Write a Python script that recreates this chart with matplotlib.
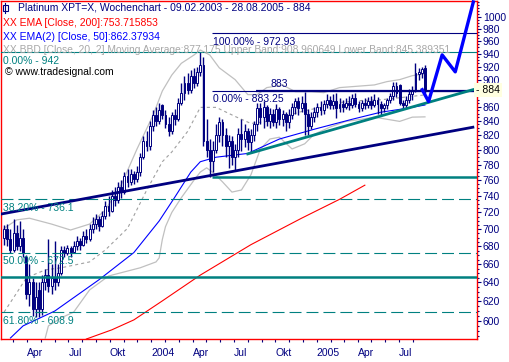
import pandas as pd
import matplotlib
matplotlib.use('Agg')
import matplotlib.pyplot as plt
import matplotlib.dates as mdates
import matplotlib.transforms as mtrans
from matplotlib.ticker import FixedLocator, FixedFormatter, NullFormatter
from matplotlib.patches import Rectangle
from matplotlib.lines import Line2D

plt.rcParams['font.family'] = ['Liberation Sans', 'DejaVu Sans']
plt.rcParams['lines.scale_dashes'] = False

# weekly candles 09.02.2003 - 28.08.2005
weeks = pd.date_range('2003-02-09', periods=134, freq='7D')
opens = [690, 700, 688, 676, 695, 680, 690, 668, 628, 640, 612, 632, 612, 640, 648, 636, 645, 640, 650, 676,
         672, 678, 674, 680, 686, 682, 692, 688, 700, 706, 712, 704, 716, 728, 722, 740, 735, 752, 745, 765,
         758, 768, 762, 770, 790, 812, 805, 832, 848, 840, 862, 848, 836, 825, 848, 842, 865, 880, 895, 884,
         905, 895, 912, 922, 812, 800, 785, 800, 820, 838, 820, 805, 812, 790, 800, 822, 815, 825, 810, 820,
         835, 858, 845, 860, 840, 850, 838, 856, 842, 850, 838, 848, 860, 868, 858, 866, 850, 832, 845, 852,
         860, 855, 864, 870, 862, 868, 858, 864, 860, 866, 862, 872, 864, 858, 865, 862, 868, 862, 870, 864,
         858, 862, 870, 876, 890, 892, 866, 862, 870, 878, 884, 908, 910, 918]
highs = [705, 706, 700, 712, 705, 710, 700, 670, 660, 645, 640, 640, 648, 655, 688, 660, 686, 660, 680, 680,
         682, 680, 686, 692, 690, 698, 700, 706, 714, 718, 716, 722, 734, 740, 748, 752, 758, 760, 770, 775,
         775, 772, 778, 796, 818, 826, 840, 855, 860, 866, 864, 855, 845, 852, 856, 872, 895, 905, 910, 915,
         918, 920, 942, 935, 842, 815, 812, 835, 845, 842, 830, 820, 818, 808, 830, 842, 835, 830, 828, 840,
         865, 866, 868, 862, 858, 856, 864, 860, 855, 852, 856, 866, 872, 874, 876, 882, 856, 852, 860, 866,
         868, 870, 878, 876, 878, 880, 872, 870, 872, 875, 878, 880, 868, 870, 872, 874, 876, 878, 874, 868,
         866, 872, 880, 896, 896, 894, 870, 876, 886, 890, 925, 918, 920, 922]
lows = [682, 680, 672, 674, 676, 675, 668, 622, 615, 605, 604, 604, 606, 632, 630, 628, 632, 636, 648, 668,
        670, 668, 672, 676, 676, 680, 684, 686, 696, 700, 698, 702, 712, 716, 720, 728, 732, 738, 742, 752,
        754, 755, 758, 765, 788, 798, 800, 826, 832, 836, 842, 830, 818, 822, 834, 840, 862, 870, 878, 880,
        888, 890, 905, 805, 790, 764, 770, 795, 810, 805, 790, 776, 780, 773, 790, 798, 804, 800, 796, 812,
        825, 835, 830, 832, 830, 832, 830, 834, 832, 826, 830, 842, 850, 848, 852, 820, 820, 828, 838, 845,
        848, 850, 858, 856, 856, 844, 852, 853, 856, 855, 858, 860, 852, 854, 856, 858, 856, 860, 850, 848,
        852, 856, 865, 870, 874, 862, 856, 858, 866, 870, 882, 900, 902, 880]
closes = [700, 688, 676, 695, 680, 690, 672, 628, 640, 612, 625, 612, 640, 648, 636, 645, 640, 650, 676, 672,
          678, 674, 680, 686, 682, 692, 688, 700, 706, 712, 704, 716, 728, 722, 740, 735, 752, 745, 765, 758,
          768, 762, 770, 790, 812, 805, 832, 848, 840, 855, 848, 836, 825, 848, 842, 865, 880, 895, 884, 905,
          895, 912, 922, 812, 800, 785, 800, 820, 838, 820, 805, 812, 790, 800, 822, 815, 825, 810, 820, 835,
          858, 845, 860, 840, 850, 838, 856, 842, 850, 838, 848, 860, 868, 858, 866, 850, 832, 845, 852, 860,
          855, 864, 870, 862, 868, 858, 864, 860, 866, 862, 872, 864, 858, 865, 862, 868, 862, 870, 864, 858,
          862, 870, 876, 890, 880, 866, 862, 870, 878, 884, 910, 912, 916, 884]

# indicator lines (week index -> value)
ema200_idx = [26, 34, 41, 50, 62, 78, 94, 106, 114]
ema200_val = [582, 591, 601, 620.5, 648, 682, 713, 736, 753.7]
ema50_idx = [2, 6, 16, 30, 41, 49, 54, 59, 62, 67, 77, 87, 98, 110, 119, 127, 133]
ema50_val = [583, 595, 610, 643, 673, 709.7, 739, 770.5, 784, 790, 795, 814.5, 828, 842, 852, 857.5, 862.4]
bbm_idx = [0, 4, 7, 13, 18, 27, 32, 39, 45, 50, 53, 58, 62, 67, 73, 78, 83, 88, 94, 100, 106, 113, 119, 125, 133]
bbm_val = [609, 629, 645, 653.7, 656, 662.5, 676, 701, 747, 784, 797, 825, 859, 859, 846, 836, 839, 845, 853,
           859, 866, 869, 870, 873, 877.2]
bbu_idx = [0, 4, 8, 15, 21, 27, 32, 37, 42, 47, 50, 53, 56, 60, 62, 65, 68, 73, 77, 80, 83, 88, 92, 97, 101,
           106, 117, 121, 125, 129, 133]
bbu_val = [701, 711, 713, 706, 699, 706, 723, 754, 801, 847, 883, 907, 925, 938, 946, 938, 918, 900, 877.6,
           877.6, 888, 892, 882, 882, 880.5, 888, 892, 897, 900, 906, 909]
bbl_idx = [13, 14, 18, 22, 27, 33, 38, 43, 48, 49, 50, 51, 53, 56, 60, 62, 64, 66, 69, 72, 75, 78, 81, 84, 87,
           91, 95, 98, 103, 108, 113, 117, 121, 125, 129, 133]
bbl_val = [583, 595, 603, 609, 632, 647, 651.5, 656, 662.5, 667, 688, 703, 720, 738, 760, 770.5, 776, 770, 758,
           745, 747.6, 767, 801, 814.5, 817, 801, 808, 821, 831, 839, 842, 845, 842, 839, 845, 845.4]

# drawing tools
fib_left = [942, 736.1, 672.5, 608.9]
fib_left_txt = ['0.00% - 942', '38.20% - 736.1', '50.00% - 672.5', '61.80% - 608.9']
fib_right = [972.93, 883.25]
fib_right_txt = ['100.00% - 972.93', '0.00% - 883.25']
support_lo = 646.1
support_hi = 764.5
resist = 883
trend1_d = ['2003-02-04', '2005-12-12']
trend1_v = [718.2, 830.8]
trend2_d = ['2004-08-01', '2005-12-12']
trend2_v = [794.4, 884.9]
fc_d = ['2005-08-22', '2005-09-05', '2005-10-05', '2005-11-03', '2005-12-13']
fc_v = [884.9, 867.4, 938.2, 911.8, 1025.5]

navy = '#000080'
teal = '#008080'

fig = plt.figure(figsize=(5.09, 3.62), dpi=100)
ax = fig.add_axes([0.5 / 509, 1 - 338.5 / 362, 476 / 509, 338 / 362])
ax.set_yscale('log')
ax.set_ylim(582.5, 1028)
ax.set_xlim(pd.Timestamp('2003-02-01'), pd.Timestamp('2005-12-20'))

x = mdates.date2num(weeks)
ax.vlines(x, lows, highs, color=navy, lw=1, zorder=3)
for xi, o, c in zip(x, opens, closes):
    lo, hi = min(o, c), max(o, c)
    if hi - lo < 1:
        hi = lo + 1
    fc = 'white' if c >= o else navy
    ax.bar(xi, hi - lo, bottom=lo, width=4.2, facecolor=fc, edgecolor=navy, lw=0.7, zorder=3.5)

wk = lambda idx: weeks[idx]
ax.plot(wk(bbu_idx), bbu_val, color='#c0c0c0', lw=0.9, zorder=2)
ax.plot(wk(bbl_idx), bbl_val, color='#c0c0c0', lw=0.9, zorder=2)
ax.plot(wk(bbm_idx), bbm_val, color='#a0a0a0', lw=0.8, dashes=(2.2, 2.2), zorder=2)
ax.plot(wk(ema200_idx), ema200_val, color='#ff0000', lw=0.8, zorder=2)
ax.plot(wk(ema50_idx), ema50_val, color='#0000ff', lw=0.8, zorder=2)

# fibonacci + horizontal lines
ax.axhline(fib_left[0], color=teal, lw=0.8, zorder=4)
for v in fib_left[1:]:
    ax.axhline(v, color=teal, lw=0.8, dashes=(8.6, 3.6), zorder=4)
ax.axhline(support_lo, color=teal, lw=1.8, zorder=4)
start = pd.Timestamp('2004-05-14')
end = pd.Timestamp('2005-12-20')
ax.hlines(support_hi, start, end, color=teal, lw=1.8, zorder=4)
ax.hlines(fib_right, start, end, color=navy, lw=0.8, zorder=4)
ax.hlines(resist, pd.Timestamp('2004-08-19'), end, color=navy, lw=1.6, zorder=4)

blend = mtrans.blended_transform_factory(ax.transAxes, ax.transData)
for v, t in zip(fib_left, fib_left_txt):
    ax.annotate(t, (0.005, v), xycoords=blend, xytext=(0, -2.5), textcoords='offset points',
                va='top', ha='left', color=teal, fontsize=7.5, zorder=6)
for v, t in zip(fib_right, fib_right_txt):
    ax.annotate(t, (start, v), xytext=(1, -2.5), textcoords='offset points',
                va='top', ha='left', color=navy, fontsize=7.5, zorder=6)
ax.annotate('883', (pd.Timestamp('2004-10-09'), resist), xytext=(0, 1.5), textcoords='offset points',
            va='bottom', ha='center', color=navy, fontsize=7.5, zorder=6)

# trend lines and forecast
ax.plot(pd.to_datetime(trend1_d), trend1_v, color=navy, lw=2, zorder=5)
ax.plot(pd.to_datetime(trend2_d), trend2_v, color=teal, lw=2, zorder=5)
ax.plot(pd.to_datetime(fc_d), fc_v, color='#0000ff', lw=2.4, zorder=6, clip_on=False)

# axes styling
for s in ax.spines.values():
    s.set_color('#ff0000')
    s.set_linewidth(1)
ax.yaxis.tick_right()
yt = [v for v in range(580, 1001, 20) if v != 880]
ax.yaxis.set_major_locator(FixedLocator(yt))
ax.yaxis.set_major_formatter(FixedFormatter([str(v) for v in yt]))
ax.yaxis.set_minor_locator(FixedLocator(list(range(585, 1026, 5))))
ax.yaxis.set_minor_formatter(NullFormatter())
ax.tick_params(axis='y', which='major', direction='out', length=3, width=0.8, color=navy,
               labelcolor=navy, labelsize=7.5, pad=1.5)
ax.tick_params(axis='y', which='minor', direction='out', length=1.5, width=0.8, color=navy)
ax.text(1.0, 884, '- 884', transform=blend, ha='left', va='center', fontsize=7.5, color='black',
        bbox=dict(facecolor='#ffffe0', edgecolor='none', pad=1.5), zorder=7, clip_on=False)

months = pd.date_range('2003-03-01', '2005-08-01', freq='MS')
mlab = {4: 'Apr', 7: 'Jul', 10: 'Okt'}
xl = []
for m in months:
    if m.month == 1:
        xl.append(str(m.year))
    else:
        xl.append(mlab.get(m.month, ''))
ax.xaxis.set_major_locator(FixedLocator(mdates.date2num(months)))
ax.xaxis.set_major_formatter(FixedFormatter(xl))
ax.tick_params(axis='x', direction='out', length=2.5, width=0.8, color=navy, labelcolor=navy,
               labelsize=7.5, pad=4)
for lab in ax.get_xticklabels():
    lab.set_ha('left')

# header
fy = lambda py: 1 - py / 362
fig.text(18 / 509, fy(8), 'Platinum XPT=X, Wochenchart - 09.02.2003 - 28.08.2005 - 884', color=navy,
         fontsize=7.5, va='center')
fig.text(3 / 509, fy(23), 'XX EMA [Close, 200]:753.715853', color='#ff0000', fontsize=7.5, va='center')
fig.text(3 / 509, fy(37), 'XX EMA(2) [Close, 50]:862.37934', color='#0000ff', fontsize=7.5, va='center')
fig.text(3 / 509, fy(50), 'XX BBD [Close, 20, 2] Moving Average:877.175 Upper Band:908.960649 '
         'Lower Band:845.389351', color='#a8a8a8', fontsize=7.4, va='center')
fig.text(5 / 509, fy(72), '\u00a9 www.tradesignal.com', color='black', fontsize=7.5, va='center')
fig.add_artist(Rectangle((2.5 / 509, fy(11)), 5 / 509, 6 / 362, transform=fig.transFigure,
                         facecolor='white', edgecolor=navy, lw=0.8))
fig.add_artist(Line2D([5 / 509, 5 / 509], [fy(13), fy(3)], transform=fig.transFigure, color=navy, lw=0.8))

fig.savefig('out.png', dpi=100)
